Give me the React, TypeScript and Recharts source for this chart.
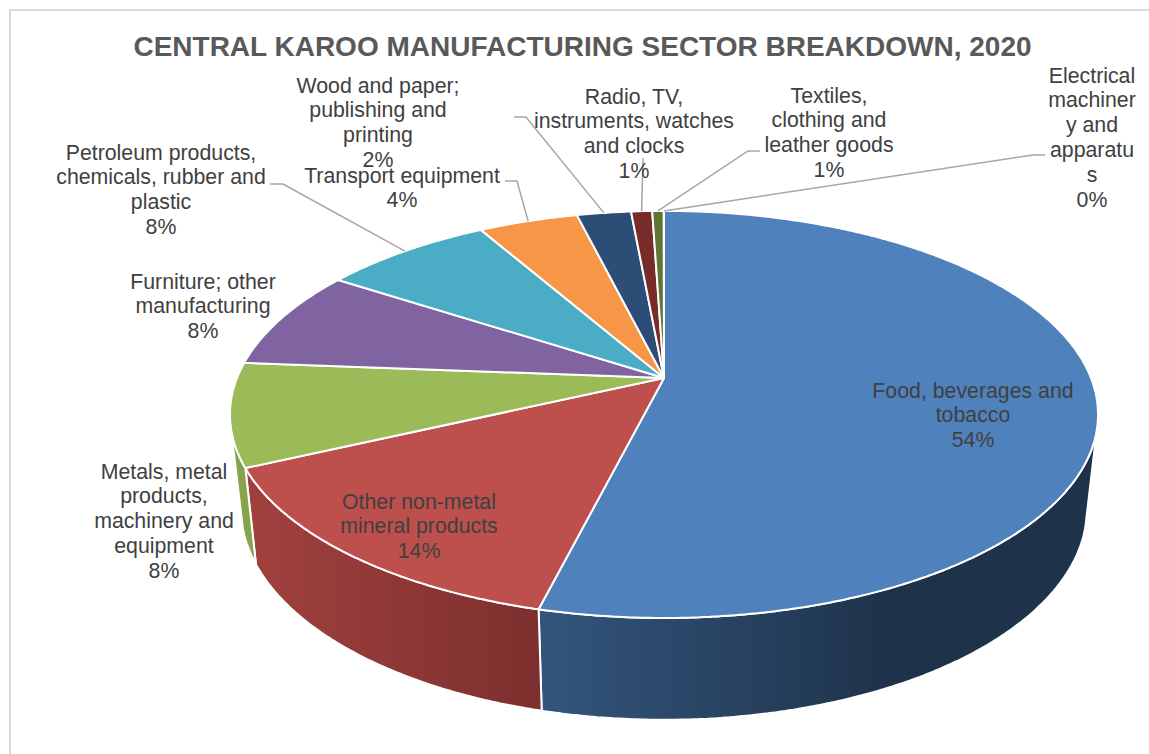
import React from 'react';
import { PieChart, Pie } from 'recharts';

const categories = [
  'Food, beverages and tobacco',
  'Other non-metal mineral products',
  'Metals, metal products, machinery and equipment',
  'Furniture; other manufacturing',
  'Petroleum products, chemicals, rubber and plastic',
  'Transport equipment',
  'Wood and paper; publishing and printing',
  'Radio, TV, instruments, watches and clocks',
  'Textiles, clothing and leather goods',
  'Electrical machinery and apparatus',
];
const shares = [53.9, 14.15, 8.2, 7.95, 7.55, 4.4, 2.4, 0.93, 0.51, 0.01];
const wrappedLabels = [
  ['Food, beverages and', 'tobacco'],
  ['Other non-metal', 'mineral products'],
  ['Metals, metal', 'products,', 'machinery and', 'equipment'],
  ['Furniture; other', 'manufacturing'],
  ['Petroleum products,', 'chemicals, rubber and', 'plastic'],
  ['Transport equipment'],
  ['Wood and paper;', 'publishing and', 'printing'],
  ['Radio, TV,', 'instruments, watches', 'and clocks'],
  ['Textiles,', 'clothing and', 'leather goods'],
  ['Electrical', 'machiner', 'y and', 'apparatu', 's'],
];
const sliceColors = ['#4f81bd', '#bd4f4d', '#9bbb59', '#8064a2', '#4bacc6', '#f79646', '#2c4d75', '#772c2a', '#5f7530', '#8cacd3'];

const data = categories.map((name, i) => ({ name, value: shares[i], fill: sliceColors[i] }));

// where each label sits: centre x, first line y, optional leader elbow
const labelSpots = [
  { x: 973, y: 390 },
  { x: 419, y: 501 },
  { x: 164, y: 471 },
  { x: 203, y: 281 },
  { x: 161, y: 152, leader: [[270, 184], [283, 184]] },
  { x: 402, y: 175, leader: [[505, 181], [517, 181]] },
  { x: 378, y: 85, leader: [[514, 117], [526, 117]] },
  { x: 634, y: 96, leader: [[643, 158]] },
  { x: 829, y: 95, leader: [[760, 151], [748, 151]] },
  { x: 1092, y: 75, leader: [[1045, 155], [1033, 155]] },
];

const topFace = { cx: 664, cy: 378, a: 427, b: 197, k: 0.179 };
const bottomFace = { cx: 664, cy: 471, a: 416, b: 204, k: 0.18 };
const RAD = Math.PI / 180;

// tilted pie: circle angle -> screen point, with the far side shrunk a little
function project(face: typeof topFace, deg: number) {
  const u = Math.cos(deg * RAD);
  const v = Math.sin(deg * RAD);
  const w = 1 + face.k * v;
  return [face.cx + (face.a * u) / w, face.cy - (face.b * v) / w];
}

function arcAngles(start: number, end: number) {
  const steps = Math.max(2, Math.ceil(Math.abs(end - start) / 0.5));
  const out: number[] = [];
  for (let i = 0; i <= steps; i++) out.push(start + ((end - start) * i) / steps);
  return out;
}

const toPath = (pts: number[][]) => 'M' + pts.map((p) => `${p[0].toFixed(1)},${p[1].toFixed(1)}`).join('L') + 'Z';

const wallStyles: Record<string, { from: string; to: string; x1: number; x2: number }> = {
  '#4f81bd': { from: '#33557d', to: '#1e3249', x1: 540, x2: 900 },
  '#bd4f4d': { from: '#a1413e', to: '#7b2f2e', x1: 250, x2: 545 },
  '#9bbb59': { from: '#86a34d', to: '#86a34d', x1: 230, x2: 260 },
};

function Slice(props: any) {
  const { startAngle, endAngle, fill } = props;
  const angles = arcAngles(startAngle, endAngle);
  const rim = angles.map((d) => project(topFace, d));
  const wall = wallStyles[fill];
  let wallPath = '';
  if (wall) {
    const upper = angles.filter((d) => Math.sin(d * RAD) < -0.24).map((d) => project(topFace, d));
    const lower = angles.filter((d) => Math.sin(d * RAD) < -0.26).map((d) => project(bottomFace, d));
    wallPath = toPath([...upper, ...lower.reverse()]);
  }
  const gradId = `wall-${fill.slice(1)}`;
  return (
    <g>
      {wall && (
        <>
          <defs>
            <linearGradient id={gradId} gradientUnits="userSpaceOnUse" x1={wall.x1} x2={wall.x2} y1={0} y2={0}>
              <stop offset="0%" stopColor={wall.from} />
              <stop offset="100%" stopColor={wall.to} />
            </linearGradient>
          </defs>
          <path d={wallPath} fill={`url(#${gradId})`} stroke="#fff" strokeWidth={2} strokeLinejoin="round" />
        </>
      )}
      <path d={toPath([[topFace.cx, topFace.cy], ...rim])} fill={fill} stroke="#fff" strokeWidth={2} strokeLinejoin="round" />
    </g>
  );
}

function SliceLabel(props: any) {
  const { index, percent, midAngle } = props;
  const spot = labelSpots[index];
  const lines = [...wrappedLabels[index], `${Math.round(percent * 100)}%`];
  const end = project(topFace, midAngle);
  return (
    <g>
      {spot.leader && (
        <polyline
          points={[...spot.leader, end].map((p) => p.join(',')).join(' ')}
          fill="none"
          stroke="#a6a6a6"
          strokeWidth={1.5}
        />
      )}
      <text
        textAnchor="middle"
        fontFamily="Liberation Sans, Arial, sans-serif"
        fontSize={21.3}
        fill="#404040"
      >
        {lines.map((line, i) => (
          <tspan key={i} x={spot.x} y={spot.y + 7.5 + i * 24.8}>
            {line}
          </tspan>
        ))}
      </text>
    </g>
  );
}

export default function App() {
  return (
    <div style={{ position: 'absolute', left: 0, top: 0, width: 1149, height: 754, overflow: 'hidden', background: '#fff' }}>
      <div
        style={{
          position: 'absolute',
          left: 9,
          top: 9,
          width: 1300,
          height: 900,
          borderLeft: '2px solid #d9d9d9',
          borderTop: '2px solid #d9d9d9',
        }}
      />
      <div style={{ position: 'absolute', left: 0, top: 0 }}>
        <PieChart width={1149} height={754} margin={{ top: 0, right: 0, bottom: 0, left: 0 }}>
          <text
            x={582.5}
            y={56}
            textAnchor="middle"
            fontFamily="Liberation Sans, Arial, sans-serif"
            fontWeight="bold"
            fontSize={28}
            fill="#595959"
          >
            CENTRAL KAROO MANUFACTURING SECTOR BREAKDOWN, 2020
          </text>
          <Pie
            data={data}
            dataKey="value"
            nameKey="name"
            cx={664}
            cy={378}
            outerRadius={200}
            startAngle={90}
            endAngle={-270}
            shape={Slice}
            label={SliceLabel}
            labelLine={false}
            isAnimationActive={false}
          />
        </PieChart>
      </div>
    </div>
  );
}
